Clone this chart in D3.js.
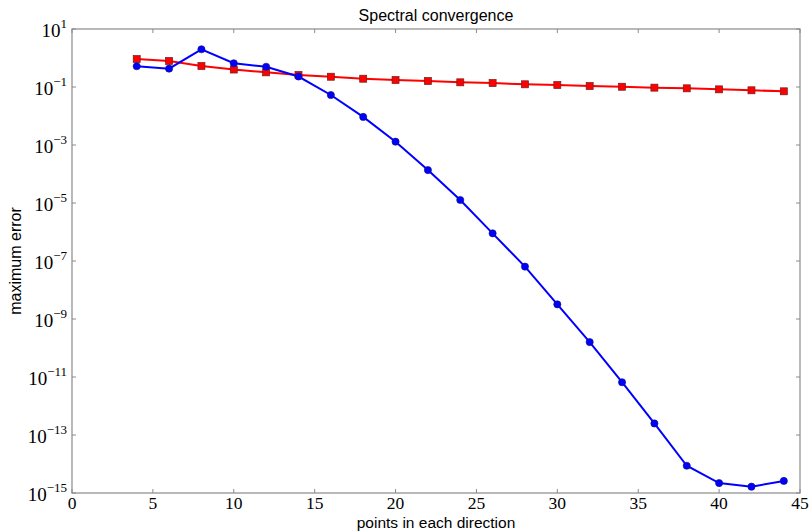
<!DOCTYPE html>
<html>
<head>
<meta charset="utf-8">
<script src="https://cdn.jsdelivr.net/npm/d3@7"></script>
<style>
body { margin: 0; background: white; }
</style>
</head>
<body>
<svg id="graf" width="812" height="532"></svg>
<script>
const punkter = [4,6,8,10,12,14,16,18,20,22,24,26,28,30,32,34,36,38,40,42,44];
const spektral = [0.52,0.43,2.0,0.66,0.50,0.23,0.053,0.0093,1.3e-3,1.37e-4,1.27e-5,9e-7,6.4e-8,3.2e-9,1.6e-10,6.6e-12,2.5e-13,8.7e-15,2.2e-15,1.65e-15,2.6e-15];
const endelig = [0.92,0.79,0.53,0.40,0.32,0.26,0.226,0.193,0.174,0.161,0.145,0.137,0.124,0.117,0.108,0.102,0.095,0.090,0.083,0.077,0.071];
const xTicks = [0,5,10,15,20,25,30,35,40,45];
const yTicks = [1,-1,-3,-5,-7,-9,-11,-13,-15];

const svg = d3.select("#graf");
const venstre = 72, hoyre = 800, topp = 29, bunn = 493;

const x = d3.scaleLinear().domain([0,45]).range([venstre,hoyre]);
const y = d3.scaleLog().domain([1e-15,1e1]).range([bunn,topp]);

// ramme
svg.append("rect").attr("x",venstre).attr("y",topp).attr("width",hoyre-venstre).attr("height",bunn-topp)
.attr("fill","none").attr("stroke","#8a8a8a").attr("stroke-width",1.2);

// ticks
xTicks.forEach(function(t){
    svg.append("line").attr("x1",x(t)).attr("x2",x(t)).attr("y1",bunn).attr("y2",bunn-4).attr("stroke","#8a8a8a");
    svg.append("line").attr("x1",x(t)).attr("x2",x(t)).attr("y1",topp).attr("y2",topp+4).attr("stroke","#8a8a8a");
    svg.append("text").attr("x",x(t)).attr("y",509).attr("text-anchor","middle")
    .attr("font-family","Liberation Serif, DejaVu Serif, serif").attr("font-size",17.5).text(t);
});

yTicks.forEach(function(e){
    const yy = y(Math.pow(10,e));
    svg.append("line").attr("x1",venstre).attr("x2",venstre+4).attr("y1",yy).attr("y2",yy).attr("stroke","#8a8a8a");
    svg.append("line").attr("x1",hoyre).attr("x2",hoyre-4).attr("y1",yy).attr("y2",yy).attr("stroke","#8a8a8a");
    const txt = svg.append("text").attr("x",67).attr("y",yy+8).attr("text-anchor","end")
    .attr("font-family","Liberation Serif, DejaVu Serif, serif").attr("font-size",19);
    txt.append("tspan").text("10");
    txt.append("tspan").attr("dy",-9).attr("font-size",13).text(e < 0 ? "\u2212" + (-e) : e);
});

// linjer
const linje = d3.line().x(function(d){ return x(d[0]); }).y(function(d){ return y(d[1]); });

const rod = d3.zip(punkter,endelig);
const bla = d3.zip(punkter,spektral);

svg.append("path").datum(rod).attr("d",linje).attr("fill","none").attr("stroke","red").attr("stroke-width",2);
svg.append("path").datum(bla).attr("d",linje).attr("fill","none").attr("stroke","blue").attr("stroke-width",2);

svg.selectAll(".firkant").data(rod).enter().append("rect").attr("class","firkant")
.attr("x",function(d){ return x(d[0])-3.5; }).attr("y",function(d){ return y(d[1])-3.5; })
.attr("width",7).attr("height",7).attr("fill","red").attr("stroke","#6a2020").attr("stroke-width",0.7);

svg.selectAll(".sirkel").data(bla).enter().append("circle").attr("class","sirkel")
.attr("cx",function(d){ return x(d[0]); }).attr("cy",function(d){ return y(d[1]); })
.attr("r",3.6).attr("fill","blue").attr("stroke","#101070").attr("stroke-width",0.6);

// tekster
svg.append("text").attr("x",(venstre+hoyre)/2).attr("y",21).attr("text-anchor","middle")
.attr("font-family","Liberation Sans, Arial, sans-serif").attr("font-size",16).text("Spectral convergence");

svg.append("text").attr("x",(venstre+hoyre)/2).attr("y",528).attr("text-anchor","middle")
.attr("font-family","Liberation Sans, Arial, sans-serif").attr("font-size",15.5).text("points in each direction");

svg.append("text").attr("transform","translate(21," + (topp+bunn)/2 + ") rotate(-90)").attr("text-anchor","middle")
.attr("font-family","Liberation Sans, Arial, sans-serif").attr("font-size",16).text("maximum error");
</script>
</body>
</html>
